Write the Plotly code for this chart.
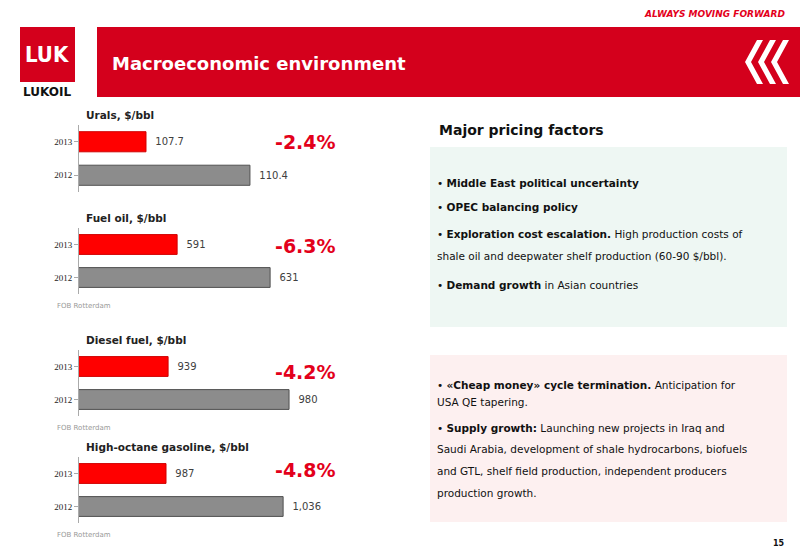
import plotly.graph_objects as go

W, H = 800, 554

years = ["2012", "2013"]
urals = [110.4, 107.7]
fuel_oil = [631, 591]
diesel = [980, 939]
gasoline = [1036, 987]
value_labels = [["  110.4", "  107.7"], ["  631", "  591"], ["  980", "  939"], ["  1,036", "  987"]]
chart_titles = ["Urals, $/bbl", "Fuel oil, $/bbl", "Diesel fuel, $/bbl", "High-octane gasoline, $/bbl"]
changes = ["-2.4%", "-6.3%", "-4.2%", "-4.8%"]
# axis start values so the bars keep the look of the original (truncated axes)
axis_starts = [105.96, 548.8, 908.8, 950.6]
axis_scales = [38.5, 2.325, 2.95, 2.39]  # pixels per unit

# text lines of the two boxes: (y pixel, html)
box1_lines = [
    (183, "• <b>Middle East political uncertainty</b>"),
    (207, "• <b>OPEC balancing policy</b>"),
    (234, "• <b>Exploration cost escalation.</b> High production costs of"),
    (256, "shale oil and deepwater shelf production (60-90 $/bbl)."),
    (285, "• <b>Demand growth</b> in Asian countries"),
]
box2_lines = [
    (385, "• <b>«Cheap money» cycle termination.</b> Anticipation for"),
    (402, "USA QE tapering."),
    (428, "• <b>Supply growth:</b> Launching new projects in Iraq and"),
    (449, "Saudi Arabia, development of shale hydrocarbons, biofuels"),
    (471, "and GTL, shelf field production, independent producers"),
    (493, "production growth."),
]

series = [urals, fuel_oil, diesel, gasoline]
# pixel bands (top, bottom) of each small chart
bands = [(125, 192), (228, 294), (350, 416), (457, 523)]
change_y = [142, 246, 372, 470]
x0_px, x1_px = 79, 400


def py(p):
    return 1 - p / H


def px(p):
    return p / W


def note(x, y, text, size, color="#111", anchor="left", family="DejaVu Sans"):
    return dict(x=px(x), y=py(y), xref="paper", yref="paper", text=text, showarrow=False,
                xanchor=anchor, yanchor="middle",
                font=dict(family=family, size=size, color=color))


fig = go.Figure()
layout = {}
annotations = []
shapes = []

for i, vals in enumerate(series):
    n = "" if i == 0 else str(i + 1)
    fig.add_trace(go.Bar(
        y=years, x=vals, orientation="h",
        xaxis="x" + n, yaxis="y" + n,
        marker=dict(color=["#8c8c8c", "#ff0000"],
                    line=dict(color=["#505050", "#d00000"], width=1)),
        text=value_labels[i], textposition="outside",
        textfont=dict(family="DejaVu Sans", size=10, color="#404040"),
        cliponaxis=False, showlegend=False,
    ))
    top, bot = bands[i]
    span = (x1_px - x0_px) / axis_scales[i]
    layout["xaxis" + n] = dict(domain=[px(x0_px), px(x1_px)], anchor="y" + n,
                               range=[axis_starts[i], axis_starts[i] + span],
                               visible=False, fixedrange=True)
    layout["yaxis" + n] = dict(domain=[py(bot), py(top)], anchor="x" + n,
                               showline=True, linecolor="#aaaaaa", ticks="outside",
                               ticklen=4, tickcolor="#aaaaaa",
                               tickfont=dict(family="Liberation Serif", size=9, color="#222"),
                               showgrid=False, fixedrange=True)
    annotations.append(note(84, top - 10, "<b>" + chart_titles[i] + "</b>", 10.5, "#222"))
    annotations.append(note(305, change_y[i], "<b>" + changes[i] + "</b>", 19, "#e3001b", "center"))
    if i > 0:
        annotations.append(note(55, bot + 12, "FOB Rotterdam", 7, "#999"))

# header and boxes
shapes += [
    dict(type="rect", xref="paper", yref="paper", x0=px(97), x1=1, y0=py(97), y1=py(27),
         fillcolor="#d4001c", line_width=0, layer="below"),
    dict(type="rect", xref="paper", yref="paper", x0=px(20), x1=px(75), y0=py(82), y1=py(27),
         fillcolor="#d4001c", line_width=0, layer="below"),
    dict(type="rect", xref="paper", yref="paper", x0=px(430), x1=px(787), y0=py(327), y1=py(147),
         fillcolor="#eef7f3", line_width=0, layer="below"),
    dict(type="rect", xref="paper", yref="paper", x0=px(430), x1=px(787), y0=py(522), y1=py(355),
         fillcolor="#fdf0f0", line_width=0, layer="below"),
]
for k in range(3):
    xs = 745 + k * 13
    shapes.append(dict(type="path", xref="paper", yref="paper",
                       path=f"M {px(xs+12)},{py(40)} L {px(xs)},{py(62)} L {px(xs+12)},{py(84)} "
                            f"L {px(xs+18)},{py(84)} L {px(xs+6)},{py(62)} L {px(xs+18)},{py(40)} Z",
                       fillcolor="white", line_width=0))

annotations += [
    note(47, 54, "<b>LUK</b>", 22, "white", "center", "DejaVu Sans Condensed"),
    note(47, 92, "<b>LUKOIL</b>", 12, "#111", "center"),
    note(110, 64, "<b>Macroeconomic environment</b>", 18, "white"),
    note(787, 14, "<b><i>ALWAYS MOVING FORWARD</i></b>", 9, "#e3001b", "right"),
    note(437, 130, "<b>Major pricing factors</b>", 14),
    note(787, 543, "<b>15</b>", 8, "#111", "right"),
]
for yy, txt in box1_lines + box2_lines:
    annotations.append(note(435, yy, txt, 10.5))

fig.update_layout(width=W, height=H, margin=dict(l=0, r=0, t=0, b=0),
                  paper_bgcolor="white", plot_bgcolor="white", bargap=0.4,
                  annotations=annotations, shapes=shapes, **layout)

fig.write_html("out.html", config={"displayModeBar": False},
               post_script="document.body.style.margin='0';")
